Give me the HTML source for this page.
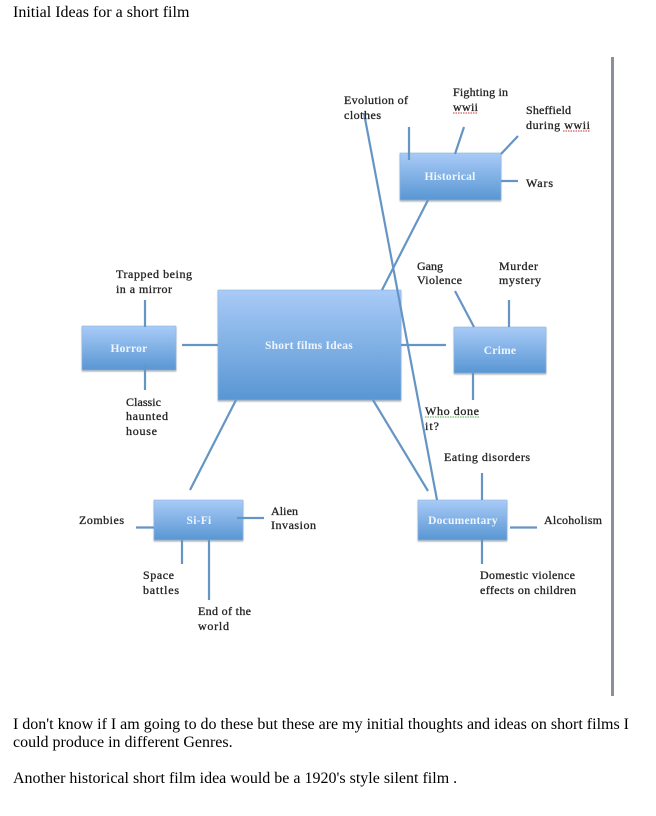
<!DOCTYPE html>
<html><head><meta charset="utf-8"><style>
html,body{margin:0;padding:0;background:#fff}
body{width:656px;height:816px;overflow:hidden;position:relative}
svg{position:absolute;left:0;top:0}
.b{font-family:"Liberation Serif",serif;font-size:16px;fill:#000}
.d{font-family:"Liberation Serif",serif;font-size:12px;fill:#222;stroke:#222;stroke-width:.3px}
.w{font-family:"Liberation Serif",serif;font-size:11.5px;font-weight:bold;fill:#eef5fd;letter-spacing:.25px;text-anchor:middle}
.l{stroke:#6595c4;stroke-width:2.2;fill:none}
</style></head><body>
<svg width="656" height="816" viewBox="0 0 656 816">
<defs>
<linearGradient id="g" x1="0" y1="0" x2="0" y2="1"><stop offset="0" stop-color="#a9cbf7"/><stop offset="1" stop-color="#5896d3"/></linearGradient>
<filter id="s" x="-5%" y="-5%" width="110%" height="115%"><feDropShadow dx="0" dy="1.2" stdDeviation="0.8" flood-color="#000" flood-opacity=".35"/></filter>
<filter id="soft" x="0" y="0" width="100%" height="100%" filterUnits="userSpaceOnUse"><feGaussianBlur stdDeviation=".3"/></filter>
</defs>
<text class="b" x="13" y="17">Initial Ideas for a short film</text>
<text class="b" x="13" y="729" textLength="616">I don't know if I am going to do these but these are my initial thoughts and ideas on short films I</text>
<text class="b" x="13" y="747">could produce in different Genres.</text>
<text class="b" x="13" y="783">Another historical short film idea would be a 1920's style silent film .</text>
<rect x="611" y="57" width="3" height="639" fill="#8b8f99"/>
<g filter="url(#soft)">
<g fill="url(#g)" stroke="#8fb5de" stroke-width=".6" filter="url(#s)">
<rect x="400" y="153" width="101" height="47"/>
<rect x="218" y="290" width="183" height="110"/>
<rect x="82" y="326" width="94" height="44"/>
<rect x="454" y="327" width="92" height="46"/>
<rect x="418" y="500" width="89" height="40"/>
<rect x="154" y="500" width="89" height="40"/>
</g>
<g class="l">
<path d="M364 113L437 500"/>
<path d="M409 127V160"/><path d="M464 127L455 154"/><path d="M518 136L501 154"/><path d="M501 181H518"/>
<path d="M428 200L382 290"/>
<path d="M145 300V327"/><path d="M145 365V390"/><path d="M182 345H218"/>
<path d="M401 345H446"/><path d="M455 291L474 327"/><path d="M509 300V327"/><path d="M473 373V400"/>
<path d="M373 400L428 491"/>
<path d="M482 473V500"/><path d="M510 527.500H537"/><path d="M482 538V564"/>
<path d="M236 400L190 490"/>
<path d="M136 527.500H154"/><path d="M237 518H264"/><path d="M182 540V564"/><path d="M209 540V600"/>
</g>
<g>
<text class="w" x="450" y="180">Historical</text>
<text class="w" x="309" y="349">Short films Ideas</text>
<text class="w" x="129" y="352">Horror</text>
<text class="w" x="500" y="354">Crime</text>
<text class="w" x="463" y="524">Documentary</text>
<text class="w" x="199" y="524">Si-Fi</text>
</g>
<g class="d">
<text x="344" y="104" textLength="64">Evolution of</text><text x="344" y="119" textLength="37">clothes</text>
<text x="453" y="96" textLength="55">Fighting in</text><text x="453" y="111" textLength="25">wwii</text>
<text x="526" y="114" textLength="45">Sheffield</text><text x="526" y="129" textLength="64">during wwii</text>
<text x="526" y="187" textLength="27">Wars</text>
<text x="417" y="270" textLength="26">Gang</text><text x="417" y="284" textLength="45">Violence</text>
<text x="499" y="270" textLength="39">Murder</text><text x="499" y="284" textLength="42">mystery</text>
<text x="116" y="278" textLength="76">Trapped being</text><text x="116" y="293" textLength="56">in a mirror</text>
<text x="126" y="406" textLength="35">Classic</text><text x="126" y="420" textLength="42">haunted</text><text x="126" y="435" textLength="31">house</text>
<text x="425" y="415" textLength="54">Who done</text><text x="425" y="430" textLength="14">it?</text>
<text x="444" y="461" textLength="86">Eating disorders</text>
<text x="544" y="524" textLength="58">Alcoholism</text>
<text x="480" y="579" textLength="95">Domestic violence</text><text x="480" y="594" textLength="96">effects on children</text>
<text x="79" y="524" textLength="45">Zombies</text>
<text x="271" y="515" textLength="27">Alien</text><text x="271" y="529" textLength="45">Invasion</text>
<text x="143" y="579" textLength="31">Space</text><text x="143" y="594" textLength="36">battles</text>
<text x="198" y="615" textLength="53">End of the</text><text x="198" y="630" textLength="31">world</text>
</g>
<g fill="none" stroke-width=".9" stroke-dasharray="1.5 1">
<path d="M453 113H478" stroke="#c33"/>
<path d="M563 131H590" stroke="#c33"/>
<path d="M425 417H479" stroke="#5a5"/>
</g>
</g>
</svg>
</body></html>
